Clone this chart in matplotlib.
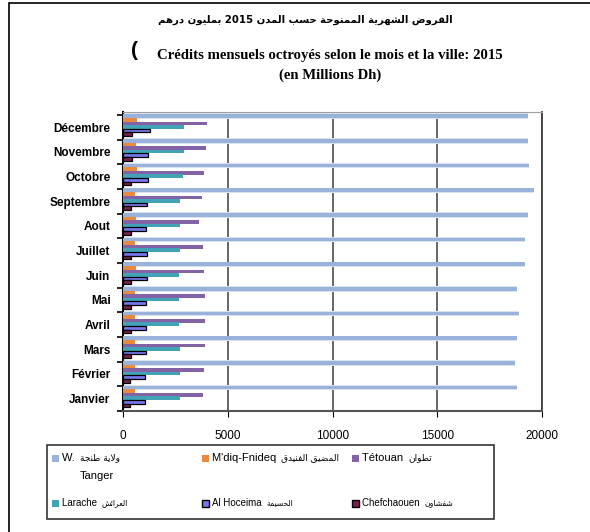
import numpy as np
import matplotlib
matplotlib.use("Agg")
import matplotlib.pyplot as plt
from matplotlib.patches import Rectangle

# ---- data (millions Dh), January -> December ----
months = ["Janvier", "Février", "Mars", "Avril", "Mai", "Juin",
          "Juillet", "Aout", "Septembre", "Octobre", "Novembre", "Décembre"]
tanger = [18800, 18710, 18820, 18880, 18800, 19190, 19170, 19330, 19630, 19390, 19330, 19310]
mdiq = [560, 560, 560, 570, 590, 610, 590, 600, 590, 680, 640, 690]
tetouan = [3830, 3850, 3920, 3920, 3910, 3890, 3830, 3650, 3790, 3890, 3970, 4030]
larache = [2710, 2710, 2700, 2670, 2670, 2680, 2700, 2720, 2740, 2870, 2890, 2920]
hoceima = [1050, 1050, 1080, 1100, 1120, 1150, 1160, 1080, 1150, 1210, 1210, 1270]
chefchaouen = [350, 350, 360, 360, 380, 380, 380, 380, 400, 400, 410, 410]

series_lat = ["W.", "M'diq-Fnideq", "Tétouan", "Larache", "Al Hoceima", "Chefchaouen"]
series_ar = ["ولاية طنجة", "المضيق الفنيدق", "تطوان", "العرائش", "الحسيمة", "شفشاون"]
series_vals = [tanger, mdiq, tetouan, larache, hoceima, chefchaouen]
colors = ["#98B2DA", "#E98A3E", "#8363A6", "#42A3B8", "#7777EE", "#7A1E4E"]
edges = [None, None, None, None, "black", "black"]

title_ar = "القروض الشهرية الممنوحة حسب المدن 2015 بمليون درهم"
title_fr = "Crédits mensuels octroyés selon le mois et la ville: 2015"
subtitle_fr = "(en Millions Dh)"

# ---- minimal arabic shaping (no reshaper lib in the sandbox) ----
# letter: (isolated, final, initial, medial) ; None initial => joins right only
FORMS = {
    "ا": (0xFE8D, 0xFE8E, None, None), "ب": (0xFE8F, 0xFE90, 0xFE91, 0xFE92),
    "ة": (0xFE93, 0xFE94, None, None), "ت": (0xFE95, 0xFE96, 0xFE97, 0xFE98),
    "ج": (0xFE9D, 0xFE9E, 0xFE9F, 0xFEA0), "ح": (0xFEA1, 0xFEA2, 0xFEA3, 0xFEA4),
    "د": (0xFEA9, 0xFEAA, None, None), "ر": (0xFEAD, 0xFEAE, None, None),
    "س": (0xFEB1, 0xFEB2, 0xFEB3, 0xFEB4), "ش": (0xFEB5, 0xFEB6, 0xFEB7, 0xFEB8),
    "ض": (0xFEBD, 0xFEBE, 0xFEBF, 0xFEC0), "ط": (0xFEC1, 0xFEC2, 0xFEC3, 0xFEC4),
    "ع": (0xFEC9, 0xFECA, 0xFECB, 0xFECC), "ف": (0xFED1, 0xFED2, 0xFED3, 0xFED4),
    "ق": (0xFED5, 0xFED6, 0xFED7, 0xFED8), "ل": (0xFEDD, 0xFEDE, 0xFEDF, 0xFEE0),
    "م": (0xFEE1, 0xFEE2, 0xFEE3, 0xFEE4), "ن": (0xFEE5, 0xFEE6, 0xFEE7, 0xFEE8),
    "ه": (0xFEE9, 0xFEEA, 0xFEEB, 0xFEEC), "و": (0xFEED, 0xFEEE, None, None),
    "ي": (0xFEF1, 0xFEF2, 0xFEF3, 0xFEF4), "ئ": (0xFE89, 0xFE8A, 0xFE8B, 0xFE8C),
    "لا": (0xFEFB, 0xFEFC, None, None),
}


def shape_word(w):
    # merge lam-alef
    letters = []
    i = 0
    while i < len(w):
        if w[i] == "ل" and i + 1 < len(w) and w[i + 1] == "ا":
            letters.append("لا")
            i += 2
        else:
            letters.append(w[i])
            i += 1
    out = []
    for j, ch in enumerate(letters):
        f = FORMS[ch]
        prev_joins = j > 0 and FORMS[letters[j - 1]][2] is not None
        next_ok = j + 1 < len(letters) and f[2] is not None
        if prev_joins and next_ok:
            code = f[3]
        elif prev_joins:
            code = f[1]
        elif next_ok:
            code = f[2]
        else:
            code = f[0]
        out.append(chr(code))
    return "".join(out[::-1])


def ar(text):
    words = text.split(" ")
    vis = [w if w.isdigit() else shape_word(w) for w in words]
    return " ".join(vis[::-1])


plt.rcParams["font.family"] = ["Liberation Sans", "DejaVu Sans"]

fig = plt.figure(figsize=(5.9, 5.32), dpi=100)
W, H = 590, 532
ax = fig.add_axes([123 / W, 1 - 411 / H, (542 - 123) / W, (411 - 112) / H])

y = np.arange(len(months))
step = 0.145
for k, vals in enumerate(series_vals):
    pos = y + 0.087 + (2.5 - k) * step
    if k == 0:
        # pale halo behind the Tangier bars
        ax.barh(pos, vals, height=0.22, color="#D8E2F1", zorder=2)
    ax.barh(pos, vals, height=0.15, color=colors[k], zorder=3,
            edgecolor=edges[k] if edges[k] else colors[k],
            linewidth=0.9 if edges[k] else 0)

ax.set_xlim(0, 20000)
ax.set_ylim(-0.5, len(months) - 0.5 + 0.12)
ax.set_xticks([0, 5000, 10000, 15000, 20000])
ax.set_xticklabels(["0", "5000", "10000", "15000", "20000"], fontsize=8.5)
ax.tick_params(axis="x", length=4, pad=10, color="black")
ax.set_yticks(np.arange(-0.5, len(months), 1))
ax.set_yticklabels([])
ax.set_yticks(y, minor=True)
ax.set_yticklabels(months, minor=True, fontsize=8.5, fontweight="bold")
ax.tick_params(axis="y", which="major", length=4, width=1.2, color="black")
ax.tick_params(axis="y", which="minor", length=0, pad=9)
ax.grid(axis="x", color="#666666", linewidth=1.4, zorder=1)
ax.set_axisbelow(True)
ax.spines["left"].set_linewidth(1.5)
ax.spines["bottom"].set_color("#555555")
ax.spines["bottom"].set_linewidth(1.5)
ax.spines["top"].set_color("#A0A0A0")
ax.spines["right"].set_color("#404040")
ax.spines["right"].set_linewidth(1.3)

# titles
fig.text(305 / W, 1 - 20 / H, ar(title_ar), ha="center", va="center",
         fontsize=7.3, fontweight="bold", family=["DejaVu Sans"])
fig.text(330 / W, 1 - 55 / H, title_fr, ha="center", va="center",
         fontsize=10.6, fontweight="bold", family=["Liberation Serif"])
fig.text(134 / W, 1 - 51 / H, "(", ha="center", va="center",
         fontsize=15, fontweight="bold", family=["Liberation Sans"])
fig.text(330 / W, 1 - 75 / H, subtitle_fr, ha="center", va="center",
         fontsize=10.6, fontweight="bold", family=["Liberation Serif"])

# outer frame
fig.patches.append(Rectangle((9 / W, -0.1), 1.1, 1.1 - 3 / H, transform=fig.transFigure,
                             fill=False, edgecolor="black", linewidth=1.2))

# legend box and entries
fig.patches.append(Rectangle((47 / W, 1 - 519 / H), (494 - 47) / W, (519 - 445) / H,
                             transform=fig.transFigure, fill=False,
                             edgecolor="#333333", linewidth=1.2))
col_x = [52, 202, 352]
row_y = [458, 503]
for k in range(len(series_lat)):
    cx = col_x[k % 3]
    cy = row_y[k // 3]
    fs = 8 if k < 3 else 7
    fig.patches.append(Rectangle((cx / W, 1 - (cy + 3.5) / H), 7 / W, 7 / H,
                                 transform=fig.transFigure, facecolor=colors[k],
                                 edgecolor=edges[k] if edges[k] else colors[k],
                                 linewidth=1 if edges[k] else 0))
    t = fig.text((cx + 10) / W, 1 - cy / H, series_lat[k] + " ", ha="left", va="center",
                 fontsize=fs)
    fig.canvas.draw()
    bb = t.get_window_extent()
    fig.text(bb.x1 / W + 2 / W, 1 - cy / H, ar(series_ar[k]), ha="left", va="center",
             fontsize=fs - 1.5, family=["DejaVu Sans"])
    if k == 0:
        fig.text((cx + 45) / W, 1 - (cy + 18) / H, "Tanger", ha="center", va="center",
                 fontsize=fs)

fig.savefig("out.png", dpi=100)
